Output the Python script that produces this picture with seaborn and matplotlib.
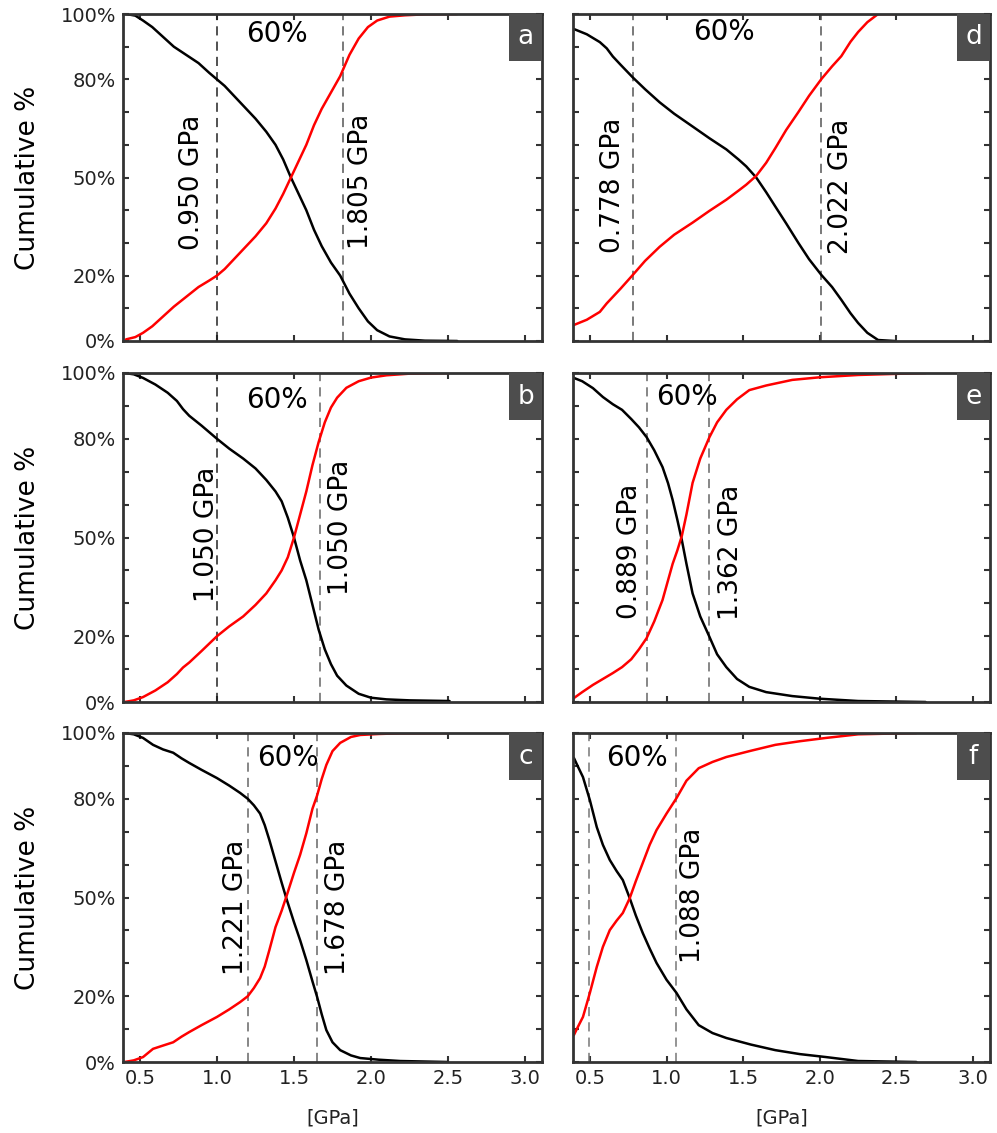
import numpy as np
import pandas as pd
import matplotlib
matplotlib.use("Agg")
import matplotlib.pyplot as plt
from matplotlib.patches import Rectangle
import seaborn as sns

sns.set_theme(style="white")
plt.rcParams['font.family'] = ['DejaVu Sans']

# ---------------- data ----------------
a_x = [0.41, 0.47, 0.52, 0.58, 0.65, 0.72, 0.80, 0.88, 0.95, 1.00, 1.05, 1.10, 1.17, 1.25, 1.32, 1.38, 1.43,
       1.48, 1.53, 1.58, 1.63, 1.68, 1.74, 1.80, 1.86, 1.92, 1.98, 2.04, 2.12, 2.22, 2.35, 2.56]
a_black = [100, 99.5, 98, 96, 93, 90, 87.5, 85, 82, 80, 78, 75.5, 72, 68, 64, 60, 55.5,
           50, 45, 40, 34, 29, 24, 20, 14.5, 10, 6, 3.3, 1.4, 0.5, 0.1, 0]
a_red = [0.5, 1.2, 2.5, 4.5, 7.5, 10.5, 13.5, 16.5, 18.5, 20, 22, 24.5, 28, 32, 36, 40.5, 45,
         50, 55, 60, 66, 71, 76, 81, 87.5, 92.5, 96, 98, 99.2, 99.6, 99.9, 100]

b_x = [0.40, 0.46, 0.52, 0.60, 0.68, 0.74, 0.78, 0.82, 0.90, 1.00, 1.08, 1.17, 1.25, 1.32, 1.38, 1.42, 1.46,
       1.50, 1.54, 1.58, 1.62, 1.66, 1.70, 1.74, 1.78, 1.84, 1.92, 2.00, 2.10, 2.25, 2.51]
b_black = [100, 99.6, 98.5, 96.5, 94, 91.5, 89, 87, 84, 80, 77, 74, 71, 67.5, 64, 61, 56,
           50, 43, 37, 29.5, 22, 16, 11.5, 8, 5, 2.5, 1.3, 0.8, 0.5, 0.3]
b_red = [0, 0.5, 1.5, 3.5, 6, 8.5, 10.5, 12, 15.5, 20, 23, 26, 29.5, 33, 37, 40, 44,
         50, 57, 64, 72, 79, 85, 89.5, 92.5, 95.5, 97.5, 98.6, 99.3, 99.8, 100]

c_x = [0.40, 0.46, 0.52, 0.585, 0.65, 0.716, 0.77, 0.82, 0.90, 1.00, 1.08, 1.15, 1.20, 1.24, 1.28, 1.31, 1.34,
       1.38, 1.42, 1.45, 1.50, 1.54, 1.58, 1.62, 1.65, 1.68, 1.71, 1.75, 1.80, 1.87, 1.93, 2.05, 2.19, 2.50]
c_black = [100, 99.6, 98.5, 96.4, 95, 94, 92.3, 90.9, 88.8, 86.3, 84, 81.8, 80, 78, 75.5, 72, 67.5,
           61, 54.5, 49.8, 42.5, 37, 31, 24.5, 19.8, 14.5, 9.7, 6, 3.6, 2, 1.2, 0.7, 0.3, 0]
c_red = [0, 0.5, 1.5, 4, 5, 6, 7.7, 9.1, 11.2, 13.7, 16, 18.2, 20, 22.5, 25.5, 29, 34,
         41, 46, 50.2, 57.5, 63, 69.5, 77, 81, 86, 90.3, 94.5, 97, 98.8, 99.4, 99.7, 99.9, 100]

d_x = [0.396, 0.48, 0.565, 0.61, 0.65, 0.70, 0.78, 0.86, 0.955, 1.05, 1.17, 1.28, 1.39, 1.47, 1.52, 1.585,
       1.65, 1.71, 1.78, 1.86, 1.93, 2.01, 2.08, 2.14, 2.20, 2.25, 2.31, 2.38, 2.49]
d_black = [95.4, 93.8, 91.4, 89.5, 87, 84.5, 80.6, 77, 73, 69.5, 65.6, 62, 58.6, 55.5, 53.4, 50,
           45.5, 41.1, 36, 30, 25, 20.2, 16.5, 12.6, 8.5, 5.5, 2.5, 0.3, 0]
d_red = [4.9, 6.5, 8.9, 11.5, 13.5, 16, 20.2, 24.5, 28.8, 32.5, 36.2, 39.8, 43.2, 46, 47.8, 50.5,
         54.5, 59, 64.5, 70, 75, 80.1, 84, 87.1, 91.5, 94.5, 97.5, 100, 100]

e_x = [0.396, 0.45, 0.52, 0.585, 0.65, 0.71, 0.77, 0.82, 0.87, 0.92, 0.974, 1.01, 1.04, 1.07, 1.10, 1.13,
       1.17, 1.22, 1.28, 1.33, 1.39, 1.46, 1.54, 1.65, 1.82, 2.00, 2.25, 2.69]
e_black = [98.5, 97.5, 95.4, 92.7, 90.5, 88.8, 86, 83.5, 80.5, 76.5, 71.4, 66.5, 61.4, 55.5, 49.2, 42,
           33, 26, 19.8, 14.5, 10.6, 7, 4.6, 3, 1.8, 1.0, 0.3, 0]
e_red = [1.2, 3, 5.2, 7, 8.8, 10.6, 13, 16, 19.4, 24.5, 31, 37, 42, 46, 50.5, 57,
         66.6, 74, 80.5, 85, 88.8, 92, 94.8, 96.2, 97.9, 98.7, 99.4, 100]

f_x = [0.396, 0.42, 0.455, 0.50, 0.545, 0.585, 0.63, 0.675, 0.715, 0.76, 0.80, 0.845, 0.89, 0.935, 1.00,
       1.065, 1.13, 1.21, 1.30, 1.39, 1.55, 1.71, 1.87, 2.04, 2.25, 2.63]
f_black = [92.4, 90, 86.6, 79.6, 71.4, 66, 61.4, 58, 55.3, 49.8, 44.5, 39.2, 34.5, 30.1, 25,
           21, 16, 11.2, 8.8, 7.3, 5.3, 3.6, 2.4, 1.5, 0.3, 0]
f_red = [8.2, 10.5, 13.7, 21, 28.9, 35, 40.1, 43, 45.3, 49.8, 55, 60.5, 66, 70.5, 75.5,
         80.2, 85.5, 89.3, 91.2, 92.7, 94.6, 96.4, 97.5, 98.5, 99.6, 100]

panel_letters = ['a', 'b', 'c', 'd', 'e', 'f']
# dashed line positions (GPa) and their annotation texts
vlines = {
    'a': [1.00, 1.82], 'b': [1.00, 1.67], 'c': [1.20, 1.65],
    'd': [0.78, 2.01], 'e': [0.87, 1.28], 'f': [0.495, 1.065],
}
vline_colors = {
    'a': ['#222222', '#555555'], 'b': ['#222222', '#666666'], 'c': ['#666666', '#666666'],
    'd': ['#555555', '#555555'], 'e': ['#666666', '#666666'], 'f': ['#777777', '#777777'],
}
labels = {
    'a': [('0.950 GPa', 0.84, 48.5), ('1.805 GPa', 1.935, 48.8)],
    'b': [('1.050 GPa', 0.935, 50.8), ('1.050 GPa', 1.805, 53.2)],
    'c': [('1.221 GPa', 1.123, 47.1), ('1.678 GPa', 1.786, 47.1)],
    'd': [('0.778 GPa', 0.65, 47.5), ('2.022 GPa', 2.14, 47.2)],
    'e': [('0.889 GPa', 0.76, 45.9), ('1.362 GPa', 1.42, 45.6)],
    'f': [('1.088 GPa', 1.17, 50.5)],
}
pct_label_pos = {'a': (1.39, 93.9), 'b': (1.39, 91.8), 'c': (1.46, 92.4),
                 'd': (1.377, 94.5), 'e': (1.13, 92.7), 'f': (0.805, 92.4)}

series = {
    'a': (a_x, a_black, a_red), 'b': (b_x, b_black, b_red), 'c': (c_x, c_black, c_red),
    'd': (d_x, d_black, d_red), 'e': (e_x, e_black, e_red), 'f': (f_x, f_black, f_red),
}

x_ticks = [0.5, 1.0, 1.5, 2.0, 2.5, 3.0]
x_tick_labels = ['0.5', '1.0', '1.5', '2.0', '2.5', '3.0']
y_ticks = [0, 20, 50, 80, 100]
y_tick_labels = ['0%', '20%', '50%', '80%', '100%']
y_minor = [10, 30, 40, 60, 70, 90]

# ---------------- figure ----------------
fig = plt.figure(figsize=(9.97, 11.33), dpi=100)
col_lr = [(123, 542), (573, 990)]
row_tb = [(14, 341), (373, 702), (733, 1062)]
W, H = 997, 1133

for idx, letter in enumerate(panel_letters):
    col = idx // 3
    row = idx % 3
    l, r = col_lr[col]
    t, b = row_tb[row]
    ax = fig.add_axes([l / W, 1 - b / H, (r - l) / W, (b - t) / H])

    xs, blk, red = series[letter]
    df = pd.DataFrame({'x': list(xs) * 2, 'y': list(blk) + list(red),
                       's': ['black'] * len(xs) + ['red'] * len(xs)})
    sns.lineplot(data=df, x='x', y='y', hue='s', palette={'black': 'black', 'red': '#ff0000'},
                 ax=ax, linewidth=1.8, legend=False, estimator=None, sort=True,
                 solid_joinstyle='round', solid_capstyle='round')

    for xv, c in zip(vlines[letter], vline_colors[letter]):
        ax.axvline(xv, color=c, linestyle=(0, (6, 4)), linewidth=1.1, zorder=1)

    for txt, tx, ty in labels[letter]:
        ax.text(tx, ty, txt, rotation=90, ha='center', va='center', fontsize=19, color='black')
    px, py = pct_label_pos[letter]
    ax.text(px, py, '60%', ha='center', va='center', fontsize=20, color='black')

    # panel letter box
    bw = 33 / (r - l)
    bh = 47 / (b - t)
    ax.add_patch(Rectangle((1 - bw, 1 - bh), bw, bh, transform=ax.transAxes,
                           facecolor='#4d4d4d', edgecolor='none', zorder=5, clip_on=False))
    ax.text(1 - bw / 2, 1 - bh / 2, letter, transform=ax.transAxes, ha='center', va='center',
            fontsize=19, color='white', zorder=6)

    ax.set_xlim(0.39, 3.11)
    ax.set_ylim(0, 100)
    ax.set_xticks(x_ticks)
    ax.set_yticks(y_ticks)
    ax.set_yticks(y_minor, minor=True)
    if row == 2:
        ax.set_xticklabels(x_tick_labels, fontsize=14, color='#222222')
        ax.set_xlabel('[GPa]', fontsize=14, color='#222222', labelpad=15)
    else:
        ax.set_xticklabels([])
        ax.set_xlabel('')
    if col == 0:
        ax.set_yticklabels(y_tick_labels, fontsize=14, color='#222222')
        ax.set_ylabel('Cumulative %', fontsize=19, color='black', labelpad=14)
    else:
        ax.set_yticklabels([])
        ax.set_ylabel('')
    ax.tick_params(which='both', direction='in', top=True, right=True, bottom=True, left=True,
                   length=4, width=1.5, color='#333333', pad=5)
    for sp in ax.spines.values():
        sp.set_visible(True)
        sp.set_color('#333333')
        sp.set_linewidth(2.0)

fig.savefig('out.png', dpi=100)
